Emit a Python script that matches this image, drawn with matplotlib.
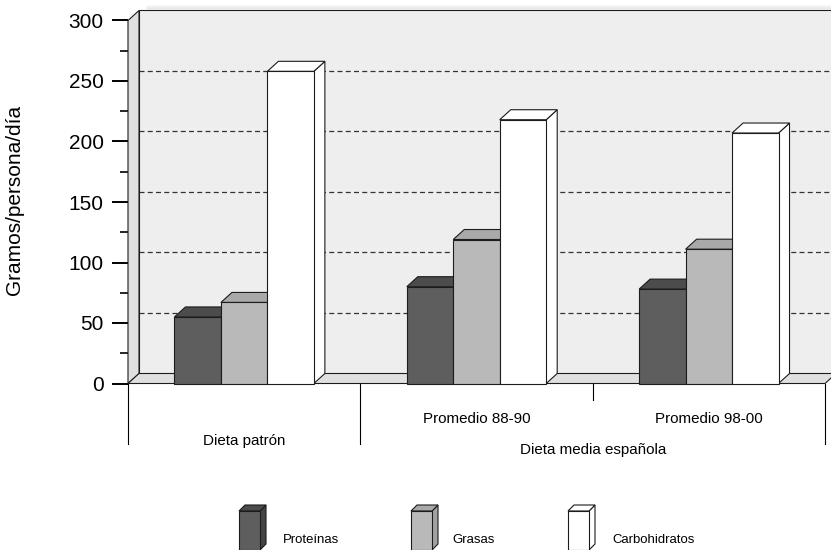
import matplotlib
matplotlib.use("Agg")
import matplotlib.pyplot as plt
from matplotlib.patches import Polygon
from matplotlib.ticker import MultipleLocator
from matplotlib import font_manager

# ---- data -------------------------------------------------------------
groups = ["Dieta patrón", "Promedio 88-90", "Promedio 98-00"]
group_parent = "Dieta media española"
series = ["Proteínas", "Grasas", "Carbohidratos"]
proteinas = [55, 80, 78]
grasas = [67, 119, 111]
carbohidratos = [258, 218, 207]
y_ticks = [0, 50, 100, 150, 200, 250, 300]
y_label = "Gramos/persona/día"

values = [proteinas, grasas, carbohidratos]
front_colors = ["#5e5e5e", "#b9b9b9", "#ffffff"]
top_colors = ["#4c4c4c", "#a9a9a9", "#ffffff"]
side_colors = ["#444444", "#a2a2a2", "#ffffff"]

# ---- fonts ------------------------------------------------------------
names = {f.name for f in font_manager.fontManager.ttflist}
if "Liberation Sans Narrow" in names:
    NARROW, NSCALE = "Liberation Sans Narrow", 1.0
else:
    NARROW, NSCALE = "Liberation Sans", 0.84
plt.rcParams["font.family"] = ["Liberation Sans", "DejaVu Sans"]

W, H = 831, 550
fig = plt.figure(figsize=(W / 100, H / 100), dpi=100)
fig.patch.set_facecolor("white")

# front plane of the plot in pixels
X0, X1 = 128, 825
Y0, Y300 = 383.5, 20.5
DEPTH_X, DEPTH_Y = 11, 10

ax = fig.add_axes([X0 / W, (H - Y0) / H, (X1 - X0) / W, (Y0 - Y300) / H])
ax.set_xlim(0, 3)
ax.set_ylim(0, 300)
ax.patch.set_visible(False)
for s in ax.spines.values():
    s.set_visible(False)

px_x = (X1 - X0) / 3.0
px_y = (Y0 - Y300) / 300.0
dx = DEPTH_X / px_x
dy = DEPTH_Y / px_y
ymax = 300
xmax = 3

EC = "#1c1c1c"
LW = 0.8

def poly(pts, fc, z, ec=EC, lw=LW):
    p = Polygon(pts, closed=True, facecolor=fc, edgecolor=ec, linewidth=lw,
                joinstyle="miter", zorder=z, clip_on=False)
    ax.add_patch(p)

# back wall, side wall and floor
poly([(dx, dy), (xmax + dx, dy), (xmax + dx, ymax + dy), (dx, ymax + dy)], "#eeeeee", 1)
poly([(0, 0), (dx, dy), (dx, ymax + dy), (0, ymax)], "#e0e0e0", 2)
poly([(0, 0), (xmax, 0), (xmax + dx, dy), (dx, dy)], "#e0e0e0", 2)

# soft shadow above the back wall
for k, a in enumerate([0.22, 0.15, 0.10, 0.06, 0.03]):
    yy = ymax + dy + (k + 1) / px_y
    ax.plot([dx + 7 / px_x, xmax + dx], [yy, yy], color="#808080", alpha=a,
            lw=1.0, solid_capstyle="butt", clip_on=False, zorder=0.5)

# dashed gridlines on the back wall
for v in y_ticks[1:-1]:
    ax.plot([dx, xmax + dx], [v + dy, v + dy], color="#333333", lw=0.9,
            dashes=(4.0, 2.6), clip_on=False, zorder=1.5)

# bars
bw = 0.2
for g in range(len(groups)):
    for s in range(len(series)):
        v = values[s][g]
        x = g + 0.5 + (s - 1) * bw
        left = x - bw / 2
        right = x + bw / 2
        z = 10 + g * 3 + s
        ax.bar(x, v, width=bw, color=front_colors[s], edgecolor=EC,
               linewidth=LW, zorder=z + 0.2, clip_on=False)
        poly([(left, v), (right, v), (right + dx, v + dy), (left + dx, v + dy)],
             top_colors[s], z + 0.1)
        poly([(right, 0), (right + dx, dy), (right + dx, v + dy), (right, v)],
             side_colors[s], z)

# y axis ticks
ax.set_xticks([])
ax.set_yticks(y_ticks)
ax.yaxis.set_minor_locator(MultipleLocator(25))
ax.tick_params(axis="y", which="major", length=11.5, width=1.4, pad=6,
               labelsize=15, color="black")
ax.tick_params(axis="y", which="minor", length=5.5, width=1.2, color="black")

# category dividers below the floor
def down(px):
    return -px / px_y

for xd in [0, 1, 3]:
    ax.plot([xd, xd], [0, down(60)], color="black", lw=0.8, clip_on=False, zorder=3)
ax.plot([2, 2], [0, down(16)], color="black", lw=0.8, clip_on=False, zorder=3)

ax.text(1.5, down(423.3 - Y0), groups[1], ha="center", va="baseline",
        family=NARROW, fontsize=13 * NSCALE)
ax.text(2.5, down(423.3 - Y0), groups[2], ha="center", va="baseline",
        family=NARROW, fontsize=13 * NSCALE)
ax.text(0.5, down(445 - Y0), groups[0], ha="center", va="baseline",
        family=NARROW, fontsize=13 * NSCALE)
ax.text(2.0, down(454 - Y0), group_parent, ha="center", va="baseline",
        family=NARROW, fontsize=13 * NSCALE)

fig.text(15 / W, 1 - 200 / H, y_label, rotation=90, ha="center", va="center",
         fontsize=15)

# legend with small boxes
lax = fig.add_axes([0, 0, 1, 1])
lax.set_xlim(0, W)
lax.set_ylim(H, 0)
lax.axis("off")
lax.patch.set_visible(False)
icon_x = [239, 411, 568]
text_x = [283, 452, 612]
iw, itop, ibot, idp = 21, 511, 550, 6
for s in range(len(series)):
    x0 = icon_x[s]
    lax.add_patch(Polygon([(x0 + iw, ibot), (x0 + iw + idp, ibot - idp),
                           (x0 + iw + idp, itop - idp), (x0 + iw, itop)],
                          facecolor=side_colors[s], edgecolor=EC, lw=LW, clip_on=False))
    lax.add_patch(Polygon([(x0, itop), (x0 + iw, itop), (x0 + iw + idp, itop - idp),
                           (x0 + idp, itop - idp)],
                          facecolor=top_colors[s], edgecolor=EC, lw=LW, clip_on=False))
    lax.add_patch(Polygon([(x0, ibot), (x0 + iw, ibot), (x0 + iw, itop), (x0, itop)],
                          facecolor=front_colors[s], edgecolor=EC, lw=LW, clip_on=False))
    lax.text(text_x[s], 543, series[s], ha="left", va="baseline",
             family=NARROW, fontsize=11.3 * NSCALE)

fig.savefig("out.png", dpi=100, facecolor="white")
